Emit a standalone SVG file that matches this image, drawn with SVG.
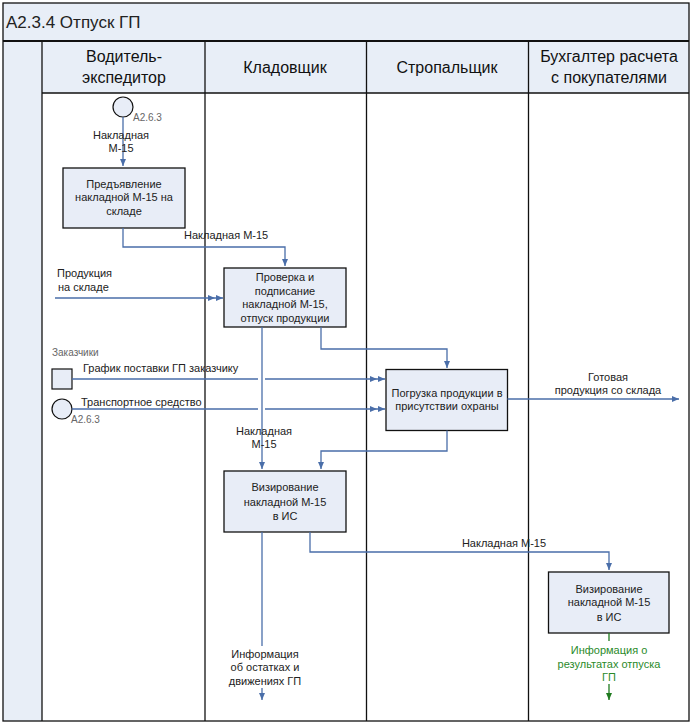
<svg xmlns="http://www.w3.org/2000/svg" width="691" height="723" viewBox="0 0 691 723">
<style>
text{font-family:"Liberation Sans",Arial,sans-serif;fill:#222}
.hdr{font-size:16px;text-anchor:middle;fill:#111}
.bx rect{fill:#e8edf7;stroke:#111;stroke-width:1.3}
.bx text{font-size:11px;text-anchor:middle}
.lbl{font-size:11px}
.c{text-anchor:middle}
.ref{font-size:10px;fill:#666}
.cn{fill:none;stroke:#4a6ea9;stroke-width:1.3}
.gr{fill:none;stroke:#1f7a1f;stroke-width:1.3}
.ln{stroke:#111;stroke-width:1.3;fill:none}
.gt{fill:#2a8a2a}
</style>
<defs>
<marker id="a" markerUnits="userSpaceOnUse" markerWidth="8" markerHeight="8" refX="7" refY="4" orient="auto"><path d="M0,1 L7,4 L0,7 z" fill="#4a6ea9"/></marker>
<marker id="a2" markerUnits="userSpaceOnUse" markerWidth="16" markerHeight="8" refX="15" refY="4" orient="auto"><path d="M0,1 L7,4 L0,7 z M8,1 L15,4 L8,7 z" fill="#4a6ea9"/></marker>
<marker id="g" markerUnits="userSpaceOnUse" markerWidth="8" markerHeight="8" refX="7" refY="4" orient="auto"><path d="M0,1 L7,4 L0,7 z" fill="#1f7a1f"/></marker>
</defs>
<rect x="0" y="0" width="691" height="723" fill="#fff"/>
<g id="frame">
<rect x="3" y="3" width="686" height="38" fill="#e8eef7"/>
<rect x="3" y="41" width="39" height="680" fill="#e8eef7"/>
<rect x="42" y="41" width="647" height="52" fill="#e8eef7"/>
<rect x="3" y="3" width="686" height="718" class="ln"/>
<line x1="3" y1="41" x2="689" y2="41" stroke="#111" stroke-width="2"/>
<line x1="42" y1="93" x2="689" y2="93" class="ln"/>
<line x1="42" y1="41" x2="42" y2="721" class="ln"/>
<line x1="205" y1="41" x2="205" y2="721" class="ln"/>
<line x1="366.5" y1="41" x2="366.5" y2="721" class="ln"/>
<line x1="528.5" y1="41" x2="528.5" y2="721" class="ln"/>
<text x="6" y="28" font-size="17" fill="#111">A2.3.4 Отпуск ГП</text>
<text class="hdr" x="124" y="62">Водитель-</text>
<text class="hdr" x="124" y="83">экспедитор</text>
<text class="hdr" x="285" y="73">Кладовщик</text>
<text class="hdr" x="447" y="73">Стропальщик</text>
<text class="hdr" x="609" y="62">Бухгалтер расчета</text>
<text class="hdr" x="609" y="83">с покупателями</text>
</g>
<g id="start1">
<circle cx="123" cy="107" r="10" fill="#e8edf7" stroke="#111" stroke-width="1.2"/>
<text class="ref" x="133" y="121">A2.6.3</text>
</g>
<g id="customers">
<rect x="52" y="369" width="20" height="20" fill="#e8edf7" stroke="#111" stroke-width="1.2"/>
<text class="ref" x="52" y="356">Заказчики</text>
</g>
<g id="transport">
<circle cx="62" cy="409" r="10" fill="#e8edf7" stroke="#111" stroke-width="1.2"/>
<text class="ref" x="71" y="423">A2.6.3</text>
</g>
<g id="box1" class="bx">
<rect x="63" y="168" width="122" height="60"/>
<text x="124" y="188">Предъявление</text>
<text x="124" y="201">накладной М-15 на</text>
<text x="124" y="215">складе</text>
</g>
<g id="box2" class="bx">
<rect x="224" y="268" width="122" height="59"/>
<text x="285" y="281">Проверка и</text>
<text x="285" y="295">подписание</text>
<text x="285" y="308">накладной М-15,</text>
<text x="285" y="322">отпуск продукции</text>
</g>
<g id="box3" class="bx">
<rect x="386" y="369.5" width="121.5" height="61"/>
<text x="447" y="396.5">Погрузка продукции в</text>
<text x="447" y="409.5">присутствии охраны</text>
</g>
<g id="box4" class="bx">
<rect x="224" y="471" width="122" height="61"/>
<text x="285" y="491">Визирование</text>
<text x="285" y="506">накладной М-15</text>
<text x="285" y="520">в ИС</text>
</g>
<g id="box5" class="bx">
<rect x="548.5" y="572" width="120.5" height="61"/>
<text x="609" y="593">Визирование</text>
<text x="609" y="606">накладной М-15</text>
<text x="609" y="621">в ИС</text>
</g>
<g id="connectors">
<path class="cn" d="M123,117 V166" marker-end="url(#a)"/>
<path class="cn" d="M123,228 V247 H285 V266" marker-end="url(#a)"/>
<path class="cn" d="M55,298 H223" marker-end="url(#a2)"/>
<path class="cn" d="M262,327 V469" marker-end="url(#a)"/>
<path class="cn" d="M321,327 V349 H447 V368" marker-end="url(#a)"/>
<path class="cn" d="M72,379 H258 M265,379 H385" marker-end="url(#a2)"/>
<path class="cn" d="M72,409 H258 M265,409 H385" marker-end="url(#a2)"/>
<path class="cn" d="M447,430.5 V451 H321 V469" marker-end="url(#a)"/>
<path class="cn" d="M507.5,399 H679" marker-end="url(#a)"/>
<path class="cn" d="M262,532 V646"/>
<path class="cn" d="M262,688 V700" marker-end="url(#a)"/>
<path class="cn" d="M310,532 V552 H609 V570" marker-end="url(#a)"/>
<path class="gr" d="M609,633 V641"/>
<path class="gr" d="M609,684 V700" marker-end="url(#g)"/>
<text class="lbl c" x="121" y="139">Накладная</text>
<text class="lbl c" x="121" y="152">М-15</text>
<text class="lbl" x="184" y="239">Накладная М-15</text>
<text class="lbl" x="57" y="277">Продукция</text>
<text class="lbl" x="58" y="291">на складе</text>
<text class="lbl" x="83" y="372">График поставки ГП заказчику</text>
<text class="lbl" x="81" y="406">Транспортное средство</text>
<text class="lbl c" x="264" y="435">Накладная</text>
<text class="lbl c" x="264" y="448">М-15</text>
<text class="lbl c" x="608" y="381">Готовая</text>
<text class="lbl c" x="608" y="394">продукция со склада</text>
<text class="lbl c" x="504" y="547">Накладная М-15</text>
<text class="lbl c" x="265" y="658">Информация</text>
<text class="lbl c" x="265" y="671">об остатках и</text>
<text class="lbl c" x="265" y="685">движениях ГП</text>
<text class="lbl c gt" x="609" y="654">Информация о</text>
<text class="lbl c gt" x="609" y="668">результатах отпуска</text>
<text class="lbl c gt" x="609" y="681">ГП</text>
</g>
</svg>
